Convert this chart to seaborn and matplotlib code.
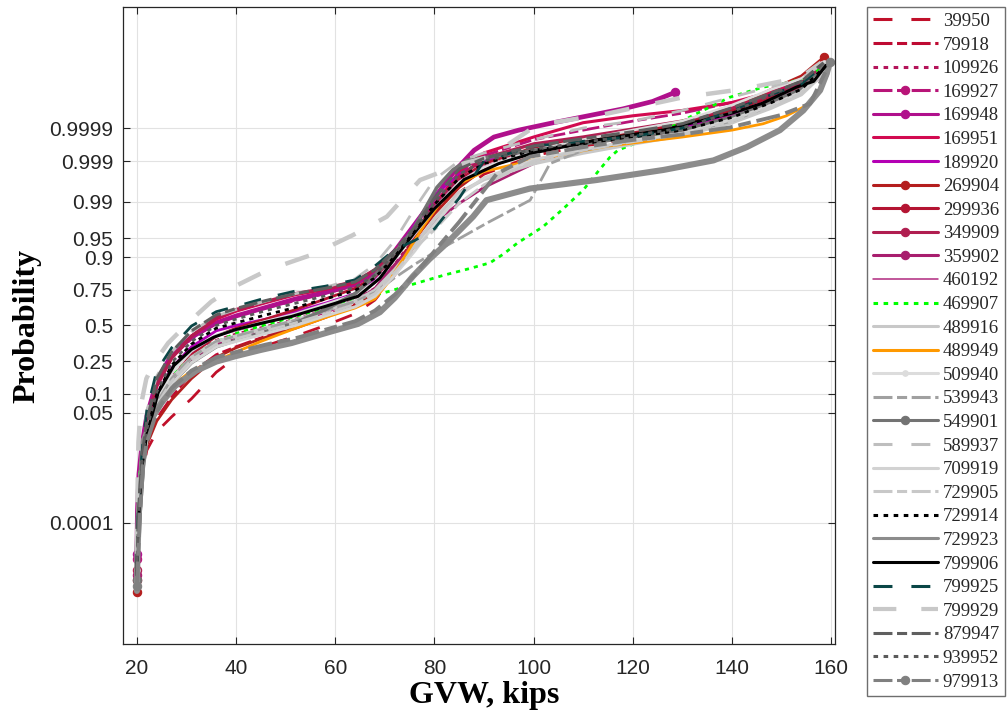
import numpy as np
import matplotlib
matplotlib.use("Agg")
import matplotlib.pyplot as plt
from matplotlib.ticker import FixedLocator, NullLocator
import seaborn as sns
from statistics import NormalDist

# ---------------------------------------------------------------------------
# Data: gross vehicle weight (kips) against the standard-normal score of the
# empirical cumulative probability, one curve per WIM station.
# ---------------------------------------------------------------------------
GVW_GRID = [20.0, 20.2, 20.6, 21.1, 22.0, 24.0, 27.0, 31.0, 36.0, 40.0, 46.0, 52.0,
            58.0, 64.0, 68.0, 72.0, 76.0, 80.0, 85.0, 90.0, 100.0, 110.0, 120.0,
            130.0, 140.0, 148.0, 154.0, 158.5]

z_39950 = [-5.03, -4.3, -3.5, -2.8, -2.35, -2.0, -1.72, -1.38, -0.88, -0.6, -0.38, -0.2, 0.0, 0.22,
           0.48, 0.95, 1.5, 2.0, 2.5, 2.85, 3.2, 3.38, 3.5, 3.66, 3.92, 4.28, 4.55, 5.0]
z_79918 = [-4.9, -4.1, -3.3, -2.65, -2.2, -1.75, -1.35, -0.9, -0.55, -0.4, -0.2, -0.02, 0.18, 0.4,
           0.62, 1.1, 1.65, 2.15, 2.62, 2.95, 3.3, 3.45, 3.58, 3.72, 4.02, 4.35, 4.6, 4.95]
z_109926 = [-4.6, -3.8, -3.1, -2.5, -2.0, -1.45, -0.95, -0.55, -0.28, -0.16, -0.02, 0.12, 0.3, 0.48,
            0.7, 1.15, 1.68, 2.18, 2.68, 2.98, 3.3, 3.45, 3.6, 3.78, 4.05, 4.3, 4.5, 4.85]
z_169951 = [-4.5, -3.7, -3.0, -2.4, -1.85, -1.15, -0.62, -0.2, 0.12, 0.27, 0.43, 0.58, 0.68, 0.8,
            1.05, 1.4, 1.75, 2.25, 2.9, 3.25, 3.55, 3.82, 3.95, 4.05, 4.2, 4.4, 4.6, 4.95]
z_189920 = [-4.5, -3.7, -3.0, -2.4, -1.9, -1.3, -0.8, -0.4, -0.1, 0.0, 0.12, 0.26, 0.42, 0.6,
            0.85, 1.35, 1.9, 2.45, 2.85, 3.1, 3.3, 3.45, 3.58, 3.72, 3.98, 4.25, 4.45, 4.8]
z_269904 = [-5.02, -4.2, -3.4, -2.7, -2.25, -1.8, -1.4, -1.0, -0.6, -0.42, -0.22, -0.05, 0.15, 0.38,
            0.62, 1.1, 1.62, 2.1, 2.6, 2.95, 3.3, 3.48, 3.62, 3.78, 4.1, 4.45, 4.7, 5.05]
z_299936 = [-4.8, -4.0, -3.2, -2.6, -2.1, -1.5, -1.0, -0.55, -0.2, -0.05, 0.12, 0.3, 0.5, 0.7,
            0.92, 1.3, 1.75, 2.25, 2.75, 3.05, 3.35, 3.52, 3.66, 3.8, 4.05, 4.3, 4.5, 4.85]
z_349909 = [-4.6, -3.8, -3.0, -2.4, -1.85, -1.1, -0.6, -0.2, 0.15, 0.3, 0.45, 0.6, 0.7, 0.83,
            1.05, 1.38, 1.72, 2.2, 2.8, 3.15, 3.42, 3.55, 3.7, 3.85, 4.1, 4.35, 4.55, 4.9]
z_359902 = [-4.7, -3.9, -3.2, -2.55, -2.05, -1.5, -1.05, -0.65, -0.35, -0.22, -0.08, 0.06, 0.25, 0.45,
            0.7, 1.15, 1.55, 1.95, 2.3, 2.6, 3.05, 3.3, 3.45, 3.6, 3.85, 4.15, 4.4, 4.75]
z_460192 = [-4.5, -3.7, -3.0, -2.4, -1.9, -1.35, -0.9, -0.5, -0.2, -0.1, 0.05, 0.2, 0.38, 0.55,
            0.8, 1.25, 1.75, 2.25, 2.72, 3.0, 3.28, 3.42, 3.55, 3.7, 3.95, 4.2, 4.4, 4.7]
z_489916 = [-4.7, -3.9, -3.2, -2.6, -2.1, -1.5, -1.0, -0.6, -0.3, -0.2, -0.05, 0.1, 0.28, 0.46,
            0.66, 1.05, 1.5, 2.0, 2.5, 2.75, 3.05, 3.25, 3.42, 3.58, 3.82, 4.1, 4.35, 4.75]
z_509940 = [-4.6, -3.8, -3.1, -2.5, -2.0, -1.4, -0.9, -0.48, -0.18, -0.08, 0.08, 0.22, 0.4, 0.58,
            0.82, 1.25, 1.72, 2.2, 2.7, 2.98, 3.3, 3.5, 3.68, 3.85, 4.15, 4.45, 4.65, 4.95]
z_589937 = [-4.4, -3.5, -2.8, -2.2, -1.6, -0.95, -0.5, -0.12, 0.18, 0.3, 0.46, 0.6, 0.72, 0.88,
            1.15, 1.6, 2.2, 2.75, 3.1, 3.25, 3.5, 3.72, 3.85, 4.05, 4.3, 4.5, 4.65, 4.95]
z_709919 = [-4.8, -4.0, -3.3, -2.65, -2.15, -1.55, -1.1, -0.7, -0.4, -0.3, -0.15, 0.0, 0.18, 0.35,
            0.55, 0.95, 1.4, 1.9, 2.45, 2.78, 3.12, 3.32, 3.48, 3.62, 3.88, 4.15, 4.4, 4.8]
z_729905 = [-4.7, -3.9, -3.2, -2.6, -2.1, -1.5, -1.05, -0.65, -0.35, -0.25, -0.1, 0.05, 0.22, 0.4,
            0.6, 1.0, 1.45, 1.8, 2.3, 2.65, 3.1, 3.3, 3.46, 3.6, 3.85, 4.12, 4.38, 4.78]
z_729914 = [-4.6, -3.8, -3.1, -2.5, -1.95, -1.3, -0.75, -0.35, -0.05, 0.05, 0.2, 0.34, 0.5, 0.66,
            0.9, 1.3, 1.78, 2.28, 2.78, 3.05, 3.3, 3.42, 3.55, 3.68, 3.92, 4.2, 4.45, 4.85]
z_799925 = [-4.5, -3.6, -2.9, -2.3, -1.6, -0.85, -0.42, -0.01, 0.26, 0.36, 0.52, 0.65, 0.74, 0.86,
            1.12, 1.43, 1.6, 1.82, 2.4, 3.1, 3.38, 3.47, 3.56, 3.72, 4.05, 4.35, 4.55, 4.9]
z_879947 = [-4.6, -3.8, -3.0, -2.4, -1.8, -1.0, -0.5, -0.1, 0.2, 0.32, 0.47, 0.6, 0.7, 0.82,
            1.05, 1.42, 1.85, 2.4, 2.95, 3.15, 3.38, 3.52, 3.65, 3.8, 4.1, 4.38, 4.6, 4.95]
z_939952 = [-4.7, -3.9, -3.1, -2.5, -1.95, -1.25, -0.7, -0.3, 0.0, 0.12, 0.28, 0.42, 0.56, 0.72,
            0.95, 1.35, 1.8, 2.32, 2.85, 3.1, 3.32, 3.45, 3.58, 3.72, 4.02, 4.35, 4.6, 4.95]

gvw_169927 = [20.0, 20.1, 20.4, 21.0, 22.0, 24.0, 27.0, 31.0, 36.0, 40.0, 46.0, 52.0, 58.0, 64.0,
              68.0, 72.0, 76.0, 80.0, 85.0, 90.0, 100.0, 110.0, 120.0, 130.0, 140.0, 148.0, 152.5]
z_169927 = [-4.4, -3.6, -2.9, -2.3, -1.75, -1.1, -0.6, -0.25, 0.05, 0.18, 0.33, 0.47, 0.6, 0.75,
            0.98, 1.35, 1.8, 2.3, 2.85, 3.2, 3.5, 3.68, 3.85, 4.0, 4.2, 4.35, 4.45]

gvw_169948 = [20.0, 20.1, 20.4, 21.0, 22.0, 24.0, 27.0, 31.0, 36.0, 40.0, 46.0, 52.0, 58.0, 64.0,
              68.0, 72.0, 76.0, 80.0, 84.0, 88.0, 92.0, 97.0, 104.0, 111.0, 118.0, 124.0, 128.5]
z_169948 = [-4.3, -3.5, -2.8, -2.25, -1.7, -1.05, -0.55, -0.22, 0.05, 0.18, 0.34, 0.5, 0.62, 0.78,
            1.0, 1.4, 1.9, 2.4, 2.9, 3.3, 3.55, 3.68, 3.82, 3.95, 4.08, 4.22, 4.39]

gvw_469907 = [20.0, 20.1, 20.4, 21.0, 22.0, 24.0, 27.0, 31.0, 35.0, 40.0, 45.0, 50.0, 55.0, 60.0,
              65.0, 70.0, 76.5, 82.0, 87.0, 91.2, 94.0, 96.7, 101.9, 106.0, 110.0, 113.0, 115.4,
              117.0, 125.0, 132.0, 139.6, 146.3, 151.7, 156.0, 158.5]
z_469907 = [-4.2, -3.5, -2.9, -2.4, -1.95, -1.35, -0.95, -0.6, -0.35, -0.15, -0.01, 0.12, 0.25, 0.37,
            0.5, 0.62, 0.8, 0.95, 1.07, 1.18, 1.35, 1.55, 1.86, 2.2, 2.55, 2.9, 3.17,
            3.3, 3.6, 3.95, 4.3, 4.49, 4.58, 4.7, 4.9]

gvw_489949 = [20.0, 20.1, 20.4, 21.0, 22.0, 24.0, 27.0, 31.0, 35.7, 40.0, 45.0, 51.2, 58.0, 64.0,
              68.0, 71.0, 75.0, 78.0, 81.1, 85.2, 90.0, 100.0, 115.0, 130.0, 140.0, 146.3, 151.0, 155.8]
z_489949 = [-4.6, -3.8, -3.1, -2.5, -2.05, -1.55, -1.15, -0.85, -0.68, -0.5, -0.3, -0.08, 0.15, 0.33,
            0.5, 0.85, 1.45, 1.9, 2.3, 2.68, 2.9, 3.12, 3.38, 3.55, 3.68, 3.8, 3.95, 4.18]

gvw_539943 = [20.0, 20.1, 20.4, 21.0, 22.0, 24.0, 27.0, 31.0, 36.0, 40.0, 46.0, 52.0, 58.0, 64.0,
              68.0, 72.0, 76.0, 80.0, 84.5, 91.0, 99.3, 103.3, 110.0, 120.0, 130.0, 140.0, 148.0,
              154.0, 158.5]
z_539943 = [-4.6, -3.8, -3.1, -2.5, -2.0, -1.45, -1.0, -0.6, -0.3, -0.2, -0.05, 0.1, 0.28, 0.45,
            0.62, 0.9, 1.15, 1.38, 1.61, 1.95, 2.36, 3.05, 3.3, 3.48, 3.62, 3.85, 4.15,
            4.4, 4.8]

gvw_549901 = [20.0, 20.3, 20.8, 21.3, 22.0, 24.0, 27.0, 31.0, 36.0, 40.0, 46.0, 52.0, 58.0, 64.0,
              67.0, 70.4, 75.7, 80.5, 83.7, 86.6, 93.0, 100.0, 110.0, 120.0, 130.0, 140.0, 148.0,
              154.0, 158.5]
z_549901 = [-4.8, -4.0, -3.3, -2.65, -2.15, -1.55, -1.1, -0.7, -0.4, -0.28, -0.12, 0.05, 0.3, 0.6,
            0.85, 1.18, 1.8, 2.6, 2.93, 3.11, 3.2, 3.3, 3.42, 3.55, 3.68, 3.92, 4.22,
            4.45, 4.85]

gvw_729923 = [20.0, 20.1, 20.4, 21.0, 21.3, 23.0, 25.0, 27.7, 32.0, 36.0, 39.8, 45.0, 51.2, 58.9,
              64.6, 69.0, 72.0, 75.7, 79.0, 82.5, 87.8, 90.5, 99.3, 112.7, 126.2, 136.3, 143.0,
              149.7, 154.4, 157.8, 159.1, 159.8]
z_729923 = [-5.0, -4.3, -3.5, -2.7, -2.2, -1.75, -1.45, -1.14, -0.85, -0.68, -0.58, -0.46, -0.33, -0.12,
            0.03, 0.25, 0.52, 0.93, 1.25, 1.55, 2.05, 2.36, 2.58, 2.74, 2.93, 3.11, 3.36,
            3.68, 4.05, 4.43, 4.74, 4.96]

gvw_799906 = [20.0, 20.2, 20.6, 21.1, 22.0, 24.3, 27.5, 31.0, 35.5, 39.8, 45.0, 51.2, 58.0, 64.6,
              69.0, 73.0, 76.0, 80.0, 86.0, 93.0, 100.0, 113.0, 126.0, 140.0, 146.0, 153.0, 156.5, 159.0]
z_799906 = [-4.7, -3.9, -3.2, -2.6, -2.05, -1.26, -0.75, -0.45, -0.22, -0.08, 0.04, 0.17, 0.36, 0.55,
            0.89, 1.39, 1.75, 2.2, 2.75, 3.05, 3.25, 3.5, 3.68, 4.0, 4.18, 4.49, 4.6, 4.9]

gvw_799929 = [20.0, 20.1, 20.3, 20.8, 21.9, 23.5, 26.3, 31.0, 35.0, 39.8, 46.5, 55.2, 63.5, 70.4,
              77.1, 85.8, 91.2, 100.6, 114.8, 130.2, 142.0, 150.0, 155.0, 158.0]
z_799929 = [-4.3, -3.2, -2.2, -1.5, -1.0, -0.7, -0.33, 0.11, 0.45, 0.74, 1.05, 1.33, 1.7, 2.05,
            2.74, 3.05, 3.18, 3.77, 3.99, 4.3, 4.45, 4.6, 4.75, 4.95]

gvw_979913 = [20.0, 20.3, 20.7, 21.2, 22.0, 24.0, 27.0, 31.0, 36.0, 40.0, 46.0, 52.0, 58.0, 64.0,
              68.0, 72.0, 76.0, 80.0, 85.0, 92.6, 99.3, 110.0, 119.5, 130.0, 139.6, 149.7, 155.8, 159.8]
z_979913 = [-4.9, -4.2, -3.4, -2.65, -2.2, -1.62, -1.18, -0.85, -0.6, -0.5, -0.36, -0.24, -0.08, 0.08,
            0.28, 0.58, 0.95, 1.4, 1.95, 2.86, 3.18, 3.36, 3.49, 3.6, 3.73, 3.96, 4.18, 4.96]

SERIES = [
    ("39950", GVW_GRID, z_39950),
    ("79918", GVW_GRID, z_79918),
    ("109926", GVW_GRID, z_109926),
    ("169927", gvw_169927, z_169927),
    ("169948", gvw_169948, z_169948),
    ("169951", GVW_GRID, z_169951),
    ("189920", GVW_GRID, z_189920),
    ("269904", GVW_GRID, z_269904),
    ("299936", GVW_GRID, z_299936),
    ("349909", GVW_GRID, z_349909),
    ("359902", GVW_GRID, z_359902),
    ("460192", GVW_GRID, z_460192),
    ("469907", gvw_469907, z_469907),
    ("489916", GVW_GRID, z_489916),
    ("489949", gvw_489949, z_489949),
    ("509940", GVW_GRID, z_509940),
    ("539943", gvw_539943, z_539943),
    ("549901", gvw_549901, z_549901),
    ("589937", GVW_GRID, z_589937),
    ("709919", GVW_GRID, z_709919),
    ("729905", GVW_GRID, z_729905),
    ("729914", GVW_GRID, z_729914),
    ("729923", gvw_729923, z_729923),
    ("799906", gvw_799906, z_799906),
    ("799925", GVW_GRID, z_799925),
    ("799929", gvw_799929, z_799929),
    ("879947", GVW_GRID, z_879947),
    ("939952", GVW_GRID, z_939952),
    ("979913", gvw_979913, z_979913),
]

PROB_TICKS = [0.0001, 0.05, 0.1, 0.25, 0.5, 0.75, 0.9, 0.95, 0.99, 0.999, 0.9999]
PROB_LABELS = ["0.0001", "0.05", "0.1", "0.25", "0.5", "0.75", "0.9", "0.95", "0.99", "0.999", "0.9999"]
GVW_TICKS = [20, 40, 60, 80, 100, 120, 140, 160]

# ---------------------------------------------------------------------------
# Line styles (dash patterns are in units of line width)
# ---------------------------------------------------------------------------
LONG_GAP = (0, (6.2, 6.2))
DASH_DOT = (0, (6.2, 1.5, 3.3, 1.5))
DOTTED = (0, (1.5, 1.8))

STYLE = {
    "39950": dict(color="#C0102A", ls=LONG_GAP, lw=2.0),
    "79918": dict(color="#BE0A32", ls=DASH_DOT, lw=2.0),
    "109926": dict(color="#B4145A", ls=DOTTED, lw=2.0),
    "169927": dict(color="#B81478", ls=DASH_DOT, lw=2.0, marker="o"),
    "169948": dict(color="#B0108C", ls="-", lw=3.4, marker="o"),
    "169951": dict(color="#D20A50", ls="-", lw=2.2),
    "189920": dict(color="#B400B4", ls="-", lw=2.0),
    "269904": dict(color="#B41E1E", ls="-", lw=2.0, marker="o"),
    "299936": dict(color="#B41432", ls="-", lw=2.0, marker="o"),
    "349909": dict(color="#B01E50", ls="-", lw=2.4, marker="o"),
    "359902": dict(color="#A81E6E", ls="-", lw=2.0, marker="o"),
    "460192": dict(color="#B0287E", ls="-", lw=1.1),
    "469907": dict(color="#00FF00", ls=DOTTED, lw=2.0),
    "489916": dict(color="#C8C8C8", ls="-", lw=2.6),
    "489949": dict(color="#FF9900", ls="-", lw=2.0),
    "509940": dict(color="#DCDCDC", ls="-", lw=2.0, marker="o", ms=4),
    "539943": dict(color="#A0A0A0", ls=DASH_DOT, lw=2.0),
    "549901": dict(color="#737373", ls="-", lw=2.6, marker="o"),
    "589937": dict(color="#BEBEBE", ls=LONG_GAP, lw=2.0),
    "709919": dict(color="#D2D2D2", ls="-", lw=2.2),
    "729905": dict(color="#C8C8C8", ls=DASH_DOT, lw=2.0),
    "729914": dict(color="#000000", ls=DOTTED, lw=2.0),
    "729923": dict(color="#8C8C8C", ls="-", lw=4.4),
    "799906": dict(color="#000000", ls="-", lw=2.2),
    "799925": dict(color="#0A4646", ls=LONG_GAP, lw=2.0),
    "799929": dict(color="#C8C8C8", ls=(0, (5.6, 6.0)), lw=3.2),
    "879947": dict(color="#5F5F5F", ls=DASH_DOT, lw=2.2),
    "939952": dict(color="#5A5A5A", ls=DOTTED, lw=2.0),
    "979913": dict(color="#808080", ls=DASH_DOT, lw=2.8, marker="o"),
}

# widths used for the legend keys
LEGEND_LW = {"460192": 1.1, "799929": 3.0}
LEGEND_LW_DEFAULT = 2.2

# ---------------------------------------------------------------------------
# Normal-probability (probit) axis
# ---------------------------------------------------------------------------
_ND = NormalDist()


def _probit_one(p):
    if not np.isfinite(p):
        return np.nan
    p = min(max(p, 1e-300), 1.0 - 1e-16)
    return _ND.inv_cdf(p)


def _cdf_one(z):
    if not np.isfinite(z):
        return np.nan
    return _ND.cdf(z)


_probit_vec = np.vectorize(_probit_one, otypes=[float])
_cdf_vec = np.vectorize(_cdf_one, otypes=[float])


def probit(p):
    return _probit_vec(np.asarray(p, dtype=float))


def norm_cdf(z):
    return _cdf_vec(np.asarray(z, dtype=float))


# ---------------------------------------------------------------------------
# Figure
# ---------------------------------------------------------------------------
sns.set_theme(style="white")
plt.rcParams["font.family"] = ["Liberation Sans", "DejaVu Sans"]

fig = plt.figure(figsize=(10.07, 7.19), dpi=100)
ax = fig.add_axes([0.1221, 0.1043, 0.7071, 0.886])
ax.set_yscale("function", functions=(probit, norm_cdf))

for name, gvw, zscore in SERIES:
    st = STYLE[name]
    prob = norm_cdf(zscore)
    kws = dict(color=st["color"], linestyle=st["ls"], linewidth=st["lw"])
    if "marker" in st:
        kws.update(marker=st["marker"], markersize=st.get("ms", 6.0),
                   markevery=[0, -1], markeredgecolor=st["color"],
                   markerfacecolor=st["color"], markeredgewidth=0.8)
    sns.lineplot(x=list(gvw), y=prob, ax=ax, estimator=None, sort=False,
                 errorbar=None, label=name, legend=False, **kws)

ax.set_xlim(17.18, 160.8)
ax.set_ylim(float(norm_cdf(-6.0)), float(norm_cdf(6.0)))

ax.xaxis.set_major_locator(FixedLocator(GVW_TICKS))
ax.yaxis.set_major_locator(FixedLocator(PROB_TICKS))
ax.yaxis.set_minor_locator(NullLocator())
ax.xaxis.set_minor_locator(NullLocator())
ax.set_yticklabels(PROB_LABELS)
ax.set_xticklabels([str(v) for v in GVW_TICKS])

ax.set_axisbelow(True)
ax.grid(True, color="#E2E2E2", linewidth=0.8)
for sp in ax.spines.values():
    sp.set_color("#262626")
    sp.set_linewidth(0.9)
    sp.set_visible(True)
ax.tick_params(axis="both", which="major", direction="in", length=5, width=0.8,
               color="#262626", labelcolor="#262626", labelsize=15,
               top=True, right=True, bottom=True, left=True)
ax.tick_params(axis="x", pad=11)
ax.tick_params(axis="y", pad=7)

label_font = dict(family=["Liberation Serif", "DejaVu Serif"], weight="bold", size=23)
ax.set_xlabel("GVW, kips", fontdict=label_font, color="black")
ax.set_ylabel("Probability", fontdict=label_font, color="black")
ax.xaxis.set_label_coords(0.507, -0.058)
ax.yaxis.set_label_coords(-0.115, 0.5)

handles, labels = ax.get_legend_handles_labels()
leg = fig.legend(handles, labels, loc="upper left", bbox_to_anchor=(0.861, 0.990),
                 bbox_transform=fig.transFigure, frameon=True, fancybox=False,
                 prop=dict(family=["Liberation Serif", "DejaVu Serif"], size=13.5),
                 handlelength=3.47, handletextpad=0.27, borderpad=0.3,
                 labelspacing=0.345, numpoints=1, borderaxespad=0.0)
for key_line, text in zip(leg.get_lines(), leg.get_texts()):
    key_line.set_linewidth(LEGEND_LW.get(text.get_text(), LEGEND_LW_DEFAULT))
leg.get_frame().set_edgecolor("#6E6E6E")
leg.get_frame().set_linewidth(1.0)
leg.get_frame().set_alpha(1.0)

fig.savefig("out.png", dpi=100)
